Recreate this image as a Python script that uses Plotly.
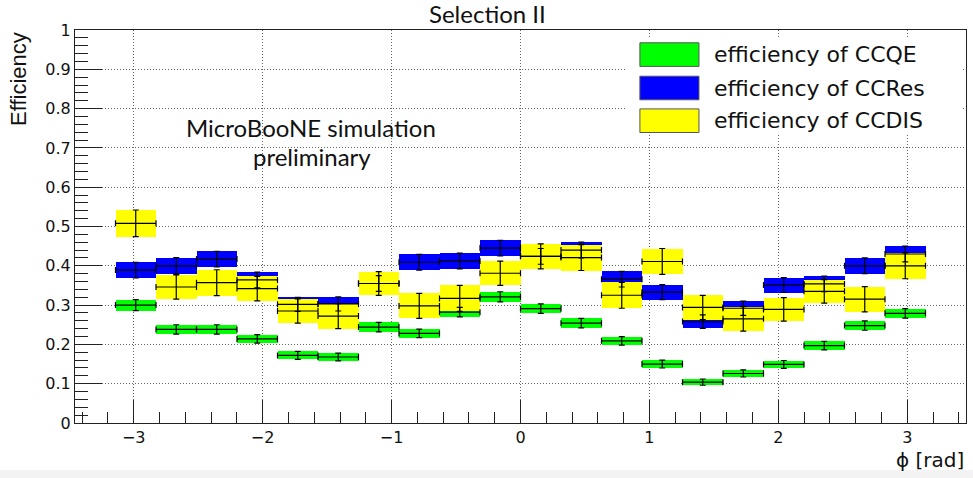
import numpy as np
import plotly.graph_objects as go

# Histogram binning in phi: 20 bins over [-pi, pi]
n_bins = 20
bin_edges = np.linspace(-np.pi, np.pi, n_bins + 1)
bin_centers = 0.5 * (bin_edges[:-1] + bin_edges[1:])
bin_width = bin_edges[1] - bin_edges[0]

# Selection efficiencies per phi bin and their uncertainties
eff_ccqe = [0.300, 0.238, 0.238, 0.214, 0.172, 0.168, 0.244, 0.228, 0.282, 0.321,
            0.291, 0.254, 0.209, 0.150, 0.104, 0.126, 0.149, 0.197, 0.248, 0.279]
err_ccqe = [0.014, 0.012, 0.012, 0.011, 0.010, 0.010, 0.012, 0.011, 0.012, 0.013,
            0.012, 0.012, 0.011, 0.010, 0.008, 0.009, 0.010, 0.011, 0.012, 0.012]

eff_ccres = [0.389, 0.400, 0.417, 0.364, 0.302, 0.303, 0.355, 0.409, 0.412, 0.445,
             0.424, 0.440, 0.366, 0.333, 0.258, 0.292, 0.351, 0.354, 0.400, 0.430]
err_ccres = [0.020, 0.021, 0.020, 0.020, 0.018, 0.018, 0.020, 0.020, 0.020, 0.020,
             0.020, 0.020, 0.020, 0.019, 0.017, 0.018, 0.019, 0.020, 0.020, 0.020]

eff_ccdis = [0.508, 0.346, 0.357, 0.342, 0.285, 0.272, 0.355, 0.298, 0.317, 0.381,
             0.424, 0.421, 0.325, 0.411, 0.294, 0.265, 0.289, 0.335, 0.315, 0.400]
err_ccdis = [0.034, 0.031, 0.033, 0.031, 0.031, 0.032, 0.030, 0.032, 0.033, 0.031,
             0.032, 0.033, 0.033, 0.033, 0.031, 0.031, 0.030, 0.030, 0.032, 0.033]

series_names = ["efficiency of CCQE", "efficiency of CCRes", "efficiency of CCDIS"]
series_colors = ["#00ff00", "#0000ff", "#ffff00"]
series_values = [eff_ccqe, eff_ccres, eff_ccdis]
series_errors = [err_ccqe, err_ccres, err_ccdis]

fig = go.Figure()

# Error boxes (filled band of +-1 sigma across each bin)
for name, color, vals, errs in zip(series_names, series_colors, series_values, series_errors):
    vals = np.array(vals)
    errs = np.array(errs)
    fig.add_trace(go.Bar(
        x=bin_centers, y=2 * errs, base=vals - errs, width=bin_width,
        marker=dict(color=color, line=dict(width=0)),
        name=name, showlegend=False, hoverinfo="skip",
    ))

# Error crosses drawn on top of all boxes
for name, vals, errs in zip(series_names, series_values, series_errors):
    fig.add_trace(go.Scatter(
        x=bin_centers, y=vals, mode="markers",
        marker=dict(size=0.1, color="black"),
        error_x=dict(type="constant", value=bin_width / 2, color="black", thickness=1.2, width=3),
        error_y=dict(type="data", array=errs, color="black", thickness=1.2, width=3),
        name=name, showlegend=False,
    ))

root_font = "DejaVu Sans"

axis_common = dict(
    showline=True, linecolor="#222", linewidth=1, mirror=True,
    ticks="inside", tickcolor="#222", tickwidth=1,
    showgrid=True, gridcolor="#666", griddash="1px,2px", gridwidth=1,
    zeroline=False,
    tickfont=dict(family=root_font, size=16, color="#111"),
)

fig.update_xaxes(
    range=[-1.1 * np.pi, 1.1 * np.pi], tickmode="linear", tick0=0, dtick=1, ticklen=23,
    minor=dict(ticks="inside", ticklen=11, dtick=0.2, tick0=0, tickcolor="#222", showgrid=False),
    **axis_common,
)
fig.update_yaxes(
    range=[0, 1], tickmode="linear", tick0=0, dtick=0.1, ticklen=27,
    minor=dict(ticks="inside", ticklen=13, dtick=0.02, tick0=0, tickcolor="#222", showgrid=False),
    **axis_common,
)

shapes = []
annotations = []

# Legend panel
shapes.append(dict(type="rect", xref="paper", yref="paper", x0=0.6195, x1=0.9966,
                   y0=0.733, y1=0.982, fillcolor="white", line=dict(width=0), layer="above"))
legend_rows = [0.9374, 0.8524, 0.7692]
for name, color, yc in zip(series_names, series_colors, legend_rows):
    shapes.append(dict(type="rect", xref="paper", yref="paper", x0=0.634, x1=0.7003,
                       y0=yc - 0.030, y1=yc + 0.030, fillcolor=color,
                       line=dict(color="#555", width=1), layer="above"))
    annotations.append(dict(text=name, xref="paper", yref="paper", x=0.715, y=yc,
                            xanchor="left", yanchor="middle", showarrow=False,
                            font=dict(family=root_font, size=22, color="#111")))

# Light strip along the bottom of the page
shapes.append(dict(type="rect", xref="paper", yref="paper", x0=-0.1, x1=1.02,
                   y0=-0.15, y1=-0.1196, fillcolor="#f3f3f3", line=dict(width=0), layer="below"))

annotations += [
    dict(text="Selection II", xref="paper", yref="paper", x=0.4635, y=1.043,
         xanchor="center", yanchor="middle", showarrow=False,
         font=dict(family="Lato", size=24, color="#111")),
    dict(text="MicroBooNE simulation", xref="paper", yref="paper", x=0.2649, y=0.753,
         xanchor="center", yanchor="middle", showarrow=False,
         font=dict(family="Lato", size=24, color="#111")),
    dict(text="preliminary", xref="paper", yref="paper", x=0.266, y=0.677,
         xanchor="center", yanchor="middle", showarrow=False,
         font=dict(family="Lato", size=24, color="#111")),
    dict(text="Efficiency", xref="paper", yref="paper", x=-0.064, y=1.0,
         xanchor="center", yanchor="top", textangle=-90, showarrow=False,
         font=dict(family="Liberation Sans", size=22, color="#111")),
    dict(text="ϕ [rad]", xref="paper", yref="paper", x=1.0, y=-0.094,
         xanchor="right", yanchor="middle", showarrow=False,
         font=dict(family=root_font, size=20, color="#111")),
]

fig.update_layout(
    width=973, height=478,
    margin=dict(l=75, r=7, t=30, b=55),
    paper_bgcolor="white", plot_bgcolor="white",
    barmode="overlay", bargap=0,
    showlegend=False,
    shapes=shapes, annotations=annotations,
)

fig.write_html("out.html")
